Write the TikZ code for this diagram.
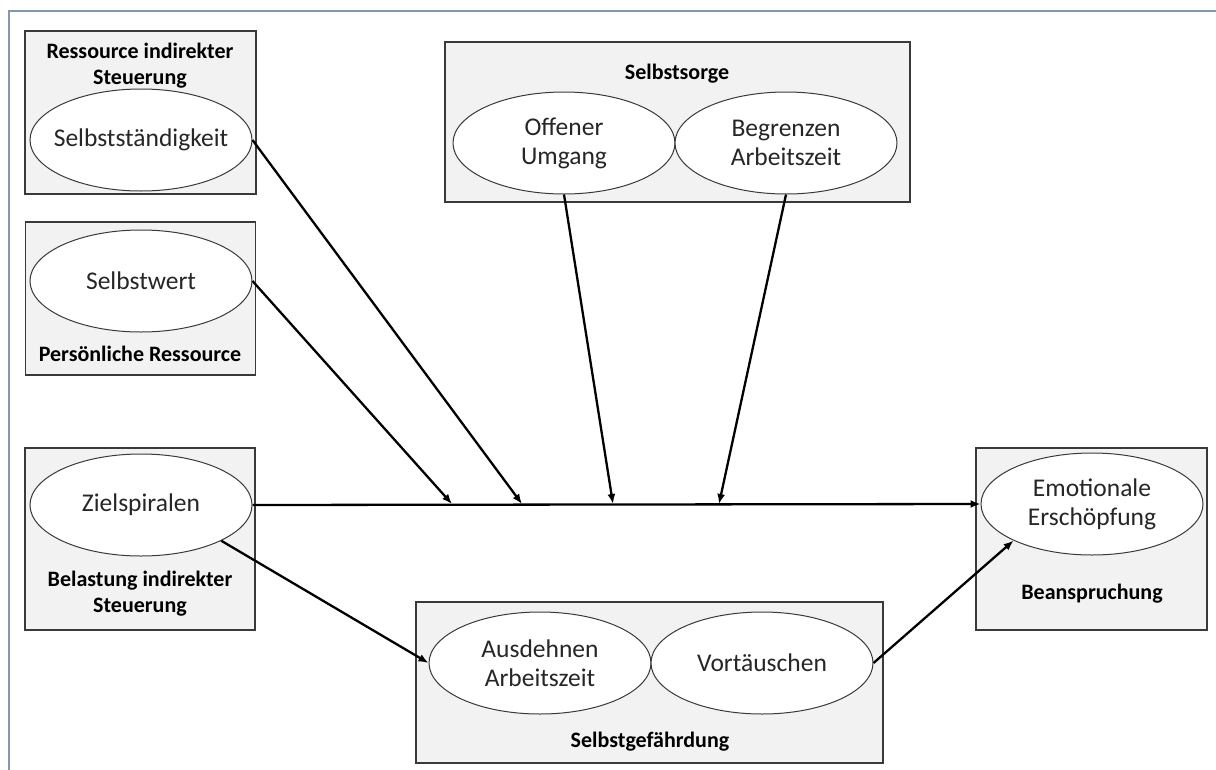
\documentclass[tikz,border=0pt]{standalone}
\usepackage{fontspec}
\setmainfont{Carlito}
\usetikzlibrary{shapes.geometric,arrows.meta}
\definecolor{boxfill}{HTML}{F2F2F2}
\definecolor{boxline}{HTML}{3A3A3A}
\definecolor{frameline}{HTML}{8497B0}
\definecolor{txt}{HTML}{262626}
\tikzset{
  groupbox/.style={draw=boxline, fill=boxfill, line width=1.4pt, inner sep=0pt},
  construct/.style={ellipse, draw=boxline, fill=white, line width=1pt,
    inner xsep=-20pt, inner ysep=0pt,
    minimum width=222pt, minimum height=102pt, align=center, text=txt,
    font=\fontsize{25.5}{29}\selectfont},
  grouptitle/.style={align=center, inner sep=0pt, text=black,
    font=\fontsize{22}{26}\selectfont\bfseries},
  path/.style={line width=2.3pt, black, -{Latex[length=10pt,width=8pt]}}
}
\begin{document}
\begin{tikzpicture}[x=1pt,y=-1pt]
\useasboundingbox (0,0) rectangle (1216,769);
% outer frame
\draw[frameline, line width=1.5pt] (9,775) -- (9,11) -- (1222,11);

% group boxes
\node[groupbox, minimum width=231pt, minimum height=163pt] (gRes) at (140.5,112.5) {};
\node[groupbox, minimum width=230pt, minimum height=153pt] (gPers) at (140.5,298.5) {};
\node[groupbox, minimum width=230pt, minimum height=182pt] (gBel) at (140,539) {};
\node[groupbox, minimum width=465pt, minimum height=160pt] (gSorge) at (677.5,122) {};
\node[groupbox, minimum width=467pt, minimum height=161pt] (gGef) at (649.5,682.5) {};
\node[groupbox, minimum width=231pt, minimum height=182pt] (gBean) at (1091.5,539) {};

% group titles
\node[grouptitle] (tRes) at (140,66) {Ressource indirekter\\Steuerung};
\node[grouptitle] (tPers) at (140,354) {Persönliche Ressource};
\node[grouptitle] (tBel) at (140,594) {Belastung indirekter\\Steuerung};
\node[grouptitle] (tSorge) at (677,74) {Selbstsorge};
\node[grouptitle] (tGef) at (650,742) {Selbstgefährdung};
\node[grouptitle] (tBean) at (1092,594) {Beanspruchung};

% constructs
\node[construct] (sst) at (141,140) {Selbstständigkeit};
\node[construct] (swt) at (141,281) {Selbstwert};
\node[construct] (zsp) at (141,505) {Zielspiralen};
\node[construct] (off) at (564,143) {Offener\\Umgang};
\node[construct] (beg) at (786,143) {Begrenzen\\Arbeitszeit};
\node[construct] (aus) at (540,663) {Ausdehnen\\Arbeitszeit};
\node[construct] (vor) at (762,663) {Vortäuschen};
\node[construct] (emo) at (1092,504) {Emotionale\\Erschöpfung};

% moderation points on the main path
\coordinate (m1) at (452,504);
\coordinate (m2) at (522,504);
\coordinate (m3) at (613,504);
\coordinate (m4) at (719,504);

% main path
\draw[path] (zsp.east) -- (emo.west);
\draw[path] (zsp.-24.5) -- (aus.west);
\draw[path] (vor.east) -- (emo.205);

% moderators
\draw[path] (swt.east) -- (m1);
\draw[path] (sst.east) -- (m2);
\draw[path] (off.south) -- (m3);
\draw[path] (beg.south) -- (m4);
\end{tikzpicture}
\end{document}
